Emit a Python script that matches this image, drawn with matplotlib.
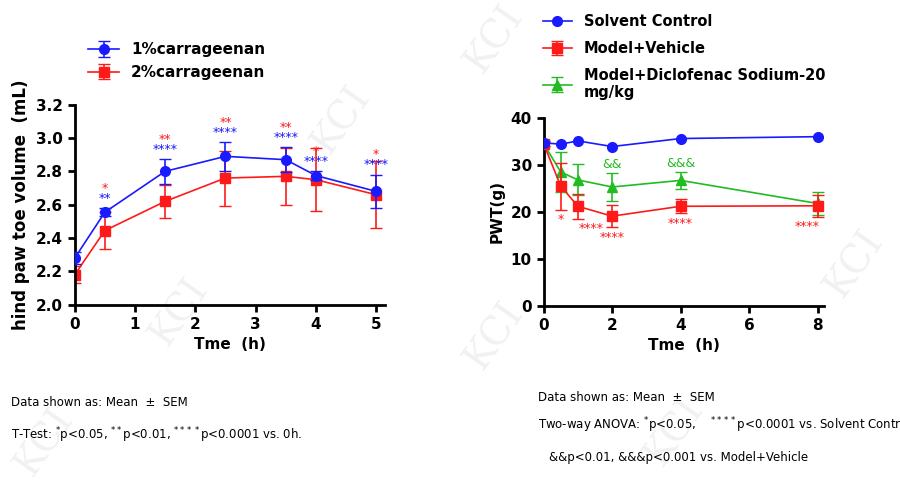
import matplotlib
matplotlib.use("Agg")
import matplotlib.pyplot as plt

# Left panel data
t1 = [0, 0.5, 1.5, 2.5, 3.5, 4, 5]
c1 = [2.28, 2.555, 2.80, 2.89, 2.87, 2.775, 2.68]
c1_err = [0.035, 0.025, 0.075, 0.085, 0.075, 0.025, 0.10]
c2 = [2.18, 2.445, 2.62, 2.76, 2.77, 2.75, 2.66]
c2_err = [0.05, 0.11, 0.10, 0.165, 0.17, 0.19, 0.20]
sig_blue = ["", "**", "****", "****", "****", "****", "****"]
sig_red = ["", "*", "**", "**", "**", "*", "*"]

# Right panel data
t2 = [0, 0.5, 1, 2, 4, 8]
solvent = [34.7, 34.4, 35.1, 33.9, 35.6, 36.0]
vehicle = [34.5, 25.5, 21.2, 19.1, 21.2, 21.3]
vehicle_err = [0.5, 5.0, 2.6, 2.3, 1.5, 2.3]
diclo = [34.5, 28.5, 26.8, 25.3, 26.7, 21.8]
diclo_err = [0.5, 4.2, 3.3, 3.0, 1.8, 2.4]
sig_vehicle = ["", "*", "****", "****", "****", "****"]
sig_diclo = ["", "", "", "&&", "&&&", ""]

BLUE = "#1a1aff"
RED = "#ff1a1a"
GREEN = "#22bb22"

fig = plt.figure(figsize=(9, 4.8), dpi=100)
fig.patch.set_facecolor("white")

def style(ax):
    for s in ["top", "right"]:
        ax.spines[s].set_visible(False)
    for s in ["left", "bottom"]:
        ax.spines[s].set_linewidth(2)
    ax.tick_params(width=2, length=5, labelsize=11)
    for lab in ax.get_xticklabels() + ax.get_yticklabels():
        lab.set_fontweight("bold")

ax1 = fig.add_axes([0.083, 0.365, 0.345, 0.417])
ax1.errorbar(t1, c1, yerr=c1_err, color=BLUE, marker="o", ms=7, lw=1.2, capsize=4, label="1%carrageenan", zorder=3)
ax1.errorbar(t1, c2, yerr=c2_err, color=RED, marker="s", ms=7, lw=1.2, capsize=4, label="2%carrageenan", zorder=2)
ax1.set_xlim(0, 5.15)
ax1.set_ylim(2.0, 3.2)
ax1.set_xticks([0, 1, 2, 3, 4, 5])
ax1.set_yticks([2.0, 2.2, 2.4, 2.6, 2.8, 3.0, 3.2])
ax1.set_xlabel("Tme  (h)", fontsize=11, fontweight="bold")
ax1.set_ylabel("hind paw toe volume  (mL)", fontsize=12, fontweight="bold")
style(ax1)
for x, y, e, sb, sr in zip(t1, c1, c1_err, sig_blue, sig_red):
    top = y + e + 0.02
    if sb:
        ax1.text(x, top, sb, color=BLUE, ha="center", va="bottom", fontsize=9)
    if sr:
        ax1.text(x, top + 0.06, sr, color=RED, ha="center", va="bottom", fontsize=9)
ax1.legend(loc="upper left", bbox_to_anchor=(0.0, 1.38), frameon=False,
           prop={"weight": "bold", "size": 11}, handlelength=2)

ax2 = fig.add_axes([0.604, 0.3625, 0.312, 0.392])
ax2.errorbar(t2, solvent, color=BLUE, marker="o", ms=7, lw=1.2, capsize=4, label="Solvent Control", zorder=4)
ax2.errorbar(t2, vehicle, yerr=vehicle_err, color=RED, marker="s", ms=7, lw=1.2, capsize=4, label="Model+Vehicle", zorder=3)
ax2.errorbar(t2, diclo, yerr=diclo_err, color=GREEN, marker="^", ms=7, lw=1.2, capsize=4,
             label="Model+Diclofenac Sodium-20\nmg/kg", zorder=2)
ax2.set_xlim(0, 8.2)
ax2.set_ylim(0, 40)
ax2.set_xticks([0, 2, 4, 6, 8])
ax2.set_yticks([0, 10, 20, 30, 40])
ax2.set_xlabel("Tme  (h)", fontsize=11, fontweight="bold")
ax2.set_ylabel("PWT(g)", fontsize=11, fontweight="bold")
style(ax2)
offs = [0, 0, 0.4, 0, 0, -0.3]
for x, y, e, s, o in zip(t2, vehicle, vehicle_err, sig_vehicle, offs):
    if s:
        ax2.text(x + o, y - e - 0.8, s, color=RED, ha="center", va="top", fontsize=9)
for x, y, e, s in zip(t2, diclo, diclo_err, sig_diclo):
    if s:
        ax2.text(x, y + e + 0.5, s, color=GREEN, ha="center", va="bottom", fontsize=9)
ax2.legend(loc="upper left", bbox_to_anchor=(-0.05, 1.62), frameon=False,
           prop={"weight": "bold", "size": 10.5}, handlelength=2, labelspacing=0.8)

fig.text(0.012, 0.155, "Data shown as: Mean  ±  SEM", fontsize=8.5)
fig.text(0.012, 0.085, "T-Test: $^{*}$p<0.05, $^{**}$p<0.01, $^{****}$p<0.0001 vs. 0h.", fontsize=8.5)
fig.text(0.598, 0.165, "Data shown as: Mean  ±  SEM", fontsize=8.5)
fig.text(0.598, 0.105, "Two-way ANOVA: $^{*}$p<0.05,    $^{****}$p<0.0001 vs. Solvent Control;", fontsize=8.5)
fig.text(0.61, 0.04, "&&p<0.01, &&&p<0.001 vs. Model+Vehicle", fontsize=8.5)

# watermark
for (x, y) in [(0.05, 0.08), (0.2, 0.35), (0.38, 0.75), (0.55, 0.92), (0.55, 0.3), (0.75, 0.1), (0.95, 0.45)]:
    fig.text(x, y, "KCI", fontsize=28, color="#000000", alpha=0.06, rotation=55,
             family="serif", ha="center", va="center")

fig.savefig("out.png", dpi=100)
